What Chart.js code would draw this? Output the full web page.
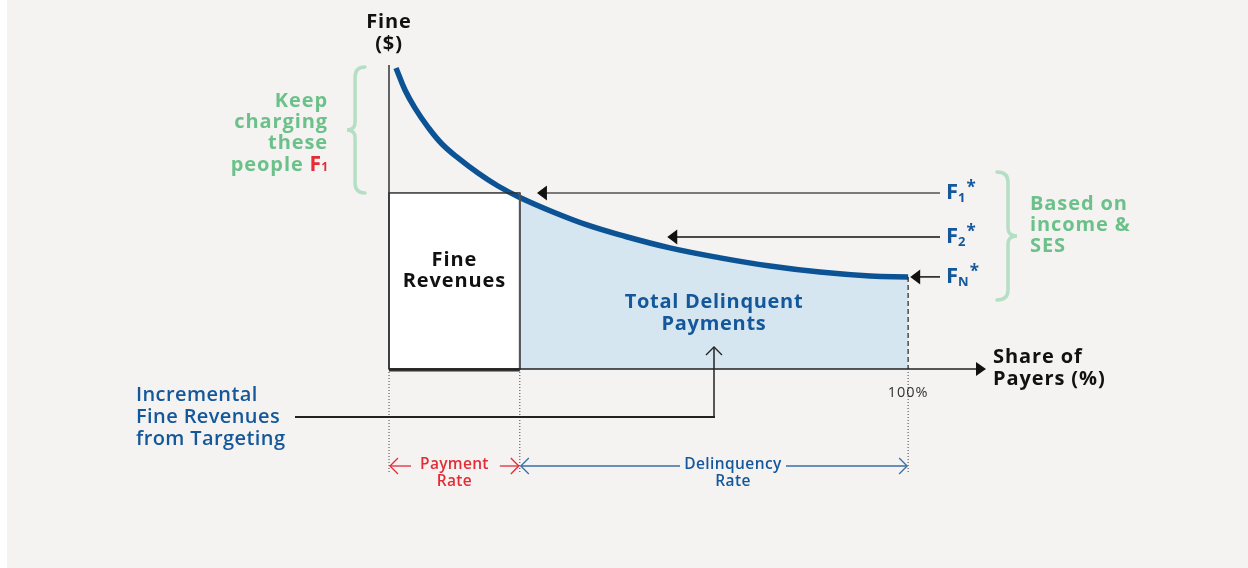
<!DOCTYPE html>
<html>
<head>
<meta charset="utf-8">
<script src="https://cdn.jsdelivr.net/npm/chart.js@4"></script>
<style>
  body { margin: 0; background: #fff; }
  #wrap { width: 1248px; height: 568px; position: relative; }
</style>
</head>
<body>
<div id="wrap"><canvas id="fines"></canvas></div>
<script>
// demand-style curve: fine ($) vs share of payers (%)
const shareX = [1.35, 3.08, 5.01, 7.51, 10.21, 13.29, 17.15, 21.0, 25.2, 31.6, 38.15, 44.5, 54.1, 63.8, 73.4, 83.0, 92.7, 100];
const fineY  = [99.7, 92.4, 86.4, 80.1, 74.5, 69.9, 64.9, 60.6, 56.8, 52.0, 47.7, 44.4, 40.1, 36.8, 34.1, 32.1, 30.8, 30.5];
const paymentRate = 25.2;
// targeted fines F1*, F2*, FN* and where their arrows hit the curve
const fineLevels = [58.3, 43.7, 30.5];
const fineSubs = ['1', '2', 'N'];
const arrowTipX = [28.5, 53.6, 100.4];

const BLUE = '#0b5394', TXTBLUE = '#14579a', GREEN = '#6cc18a', LGREEN = '#b5dfc4', RED = '#e42b36';
const FONT = '"Open Sans", sans-serif';

const curve = shareX.map((x, i) => ({x, y: fineY[i]}));
const delinquent = curve.filter(p => p.x >= paymentRate).map(p => ({...p}));
const revenueBox = [{x: 0, y: fineLevels[0]}, {x: paymentRate, y: fineLevels[0]}];

function txt(ctx, s, x, y, size, weight, color, align, spacing) {
  ctx.font = weight + ' ' + size + 'px ' + FONT;
  ctx.letterSpacing = (spacing === undefined ? 0.9 : spacing) + 'px';
  ctx.fillStyle = color;
  ctx.textAlign = align || 'center';
  ctx.textBaseline = 'middle';
  ctx.fillText(s, x, y);
  ctx.letterSpacing = '0px';
}
function measure(ctx, s, size, weight, spacing) {
  ctx.font = weight + ' ' + size + 'px ' + FONT;
  ctx.letterSpacing = (spacing === undefined ? 0.9 : spacing) + 'px';
  const w = ctx.measureText(s).width;
  ctx.letterSpacing = '0px';
  return w;
}
function line(ctx, x1, y1, x2, y2, color, w, dash) {
  ctx.beginPath();
  ctx.setLineDash(dash || []);
  ctx.strokeStyle = color; ctx.lineWidth = w;
  ctx.moveTo(x1, y1); ctx.lineTo(x2, y2); ctx.stroke();
  ctx.setLineDash([]);
}
function solidHead(ctx, x, y, dir, len, half, color) {
  // dir: 1 points right, -1 points left
  ctx.beginPath();
  ctx.fillStyle = color;
  ctx.moveTo(x, y); ctx.lineTo(x - dir * len, y - half); ctx.lineTo(x - dir * len, y + half);
  ctx.closePath(); ctx.fill();
}
function chevron(ctx, x, y, dx, dy, color) {
  ctx.beginPath();
  ctx.strokeStyle = color; ctx.lineWidth = 1.3;
  if (dy === 0) {
    ctx.moveTo(x - dx * 8, y - 8); ctx.lineTo(x, y); ctx.lineTo(x - dx * 8, y + 8);
  } else {
    ctx.moveTo(x - 8, y - dy * 8); ctx.lineTo(x, y); ctx.lineTo(x + 8, y - dy * 8);
  }
  ctx.stroke();
}
function brace(ctx, tipX, midX, y1, y2, color) {
  const ym = (y1 + y2) / 2, d = midX - tipX, bx = tipX + d * 0.55;
  ctx.beginPath();
  ctx.strokeStyle = color; ctx.lineWidth = 3.5; ctx.lineCap = 'round';
  ctx.moveTo(tipX, y1);
  ctx.quadraticCurveTo(bx, y1, bx, y1 + 10);
  ctx.lineTo(bx, ym - 8);
  ctx.quadraticCurveTo(bx, ym, midX, ym);
  ctx.quadraticCurveTo(bx, ym, bx, ym + 8);
  ctx.lineTo(bx, y2 - 10);
  ctx.quadraticCurveTo(bx, y2, tipX, y2);
  ctx.stroke();
  ctx.lineCap = 'butt';
}

const background = {
  id: 'background',
  beforeDraw(chart) {
    const ctx = chart.ctx;
    ctx.save();
    ctx.fillStyle = '#f4f3f1';
    ctx.fillRect(7, 0, chart.width - 7, chart.height);
    ctx.restore();
  }
};

const diagram = {
  id: 'diagram',
  afterDatasetsDraw(chart) {
    const ctx = chart.ctx, xs = chart.scales.x, ys = chart.scales.y;
    const x0 = xs.getPixelForValue(0), xp = xs.getPixelForValue(paymentRate), x100 = xs.getPixelForValue(100);
    const y0 = ys.getPixelForValue(0), yF1 = ys.getPixelForValue(fineLevels[0]);
    const yN = ys.getPixelForValue(fineLevels[2]);
    ctx.save();

    // fine revenues box outline
    ctx.strokeStyle = '#333'; ctx.lineWidth = 1.5;
    ctx.strokeRect(x0, yF1, xp - x0, y0 - yF1);
    line(ctx, xp, yF1, xp, y0, '#555', 2);
    line(ctx, x0, y0 + 1, xp, y0 + 1, '#333', 3);

    // axes
    line(ctx, x0, ys.getPixelForValue(100.7), x0, y0, '#333', 1.5);
    const xEnd = chart.chartArea.right;
    line(ctx, x0, y0, xEnd - 8, y0, '#222', 1.5);
    solidHead(ctx, xEnd, y0, 1, 10, 7, '#111');

    // dashed edge at 100%
    line(ctx, x100, yN, x100, y0, '#222', 1.2, [5, 3]);
    // dotted guides
    [x0, xp, x100].forEach(x => line(ctx, x, y0 + 3, x, y0 + 103, '#444', 1, [1, 2]));

    // F* arrows
    fineLevels.forEach((v, i) => {
      const y = ys.getPixelForValue(v), tip = xs.getPixelForValue(arrowTipX[i]);
      line(ctx, tip + 8, y, 940, y, i === 0 ? '#7a7a7a' : '#111', i === 0 ? 2 : 1.5);
      solidHead(ctx, tip, y, -1, 10, 7.5, '#111');
      txt(ctx, 'F', 946, y, 22, 700, TXTBLUE, 'left', 0);
      const fw = measure(ctx, 'F', 22, 700, 0);
      txt(ctx, fineSubs[i], 946 + fw, y + 5, 13, 700, TXTBLUE, 'left', 0);
      const sw = measure(ctx, fineSubs[i], 13, 700, 0);
      txt(ctx, '*', 946 + fw + sw + 1, y - 5, 17, 700, TXTBLUE, 'left', 0);
    });

    // axis titles
    txt(ctx, 'Fine', x0, 22, 20, 700, '#111');
    txt(ctx, '($)', x0, 44, 20, 700, '#111');
    txt(ctx, 'Share of', 993, 357, 20, 700, '#111', 'left');
    txt(ctx, 'Payers (%)', 993, 379, 20, 700, '#111', 'left');
    txt(ctx, '100%', x100, 393, 14.5, 400, '#333', 'center', 1);

    // area labels
    txt(ctx, 'Fine', (x0 + xp) / 2, 260, 20, 700, '#111');
    txt(ctx, 'Revenues', (x0 + xp) / 2, 281, 20, 700, '#111');
    txt(ctx, 'Total Delinquent', 714, 302, 20, 700, TXTBLUE, 'center', 0.7);
    txt(ctx, 'Payments', 714, 324, 20, 700, TXTBLUE, 'center', 0.7);

    // incremental revenues callout
    line(ctx, 714, 417, 714, 348, '#222', 1.5);
    chevron(ctx, 714, 347, 0, -1, '#222');
    line(ctx, 295, 417, 715, 417, '#222', 2);
    ['Incremental', 'Fine Revenues', 'from Targeting'].forEach((s, i) =>
      txt(ctx, s, 136, 395 + i * 22, 20, 600, TXTBLUE, 'left', 0.4));

    // left brace + note
    brace(ctx, 365, 347, ys.getPixelForValue(100), yF1, LGREEN);
    txt(ctx, 'Keep', 328, 101, 20, 700, GREEN, 'right');
    txt(ctx, 'charging', 328, 122, 20, 700, GREEN, 'right');
    txt(ctx, 'these', 328, 143, 20, 700, GREEN, 'right');
    const s1 = measure(ctx, '1', 12, 700, 0);
    txt(ctx, '1', 328, 168, 12, 700, RED, 'right', 0);
    const fW = measure(ctx, 'F', 21, 700, 0);
    txt(ctx, 'F', 328 - s1, 165, 21, 700, RED, 'right', 0);
    txt(ctx, 'people', 322 - s1 - fW, 165, 20, 700, GREEN, 'right');

    // right brace + note
    brace(ctx, 997, 1017, 172, 300, LGREEN);
    txt(ctx, 'Based on', 1030, 204, 20, 700, GREEN, 'left');
    txt(ctx, 'income &', 1030, 225, 20, 700, GREEN, 'left');
    txt(ctx, 'SES', 1030, 246, 20, 700, GREEN, 'left');

    // rate brackets
    const yr = 466;
    line(ctx, x0 + 1, yr, x0 + 22, yr, RED, 1.3);
    line(ctx, xp - 20, yr, xp - 1, yr, RED, 1.3);
    chevron(ctx, x0 + 1, yr, -1, 0, RED);
    chevron(ctx, xp - 1, yr, 1, 0, RED);
    txt(ctx, 'Payment', (x0 + xp) / 2, 465, 15.5, 600, RED, 'center', 0.3);
    txt(ctx, 'Rate', (x0 + xp) / 2, 482, 15.5, 600, RED, 'center', 0.3);
    line(ctx, xp + 1, yr, 680, yr, '#3a6ea5', 1.3);
    line(ctx, 786, yr, x100 - 1, yr, '#3a6ea5', 1.3);
    chevron(ctx, xp + 1, yr, -1, 0, '#3a6ea5');
    chevron(ctx, x100 - 1, yr, 1, 0, '#3a6ea5');
    txt(ctx, 'Delinquency', 733, 465, 15.5, 600, TXTBLUE, 'center', 0.4);
    txt(ctx, 'Rate', 733, 482, 15.5, 600, TXTBLUE, 'center', 0.4);

    ctx.restore();
  }
};

new Chart(document.getElementById('fines'), {
  type: 'line',
  data: {
    datasets: [
      { data: curve, borderColor: BLUE, borderWidth: 5.5, pointRadius: 0,
        tension: 0.4, fill: false, clip: false },
      { data: delinquent, borderWidth: 0, pointRadius: 0, borderColor: 'transparent',
        tension: 0.4, fill: 'origin', backgroundColor: '#d5e6f1' },
      { data: revenueBox, borderWidth: 0, pointRadius: 0, borderColor: 'transparent',
        fill: 'origin', backgroundColor: '#ffffff' }
    ]
  },
  options: {
    responsive: true,
    maintainAspectRatio: false,
    animation: false,
    layout: { padding: { left: 389, right: 262, top: 64, bottom: 199 } },
    scales: {
      x: { type: 'linear', min: 0, max: 115, display: false },
      y: { min: 0, max: 101, display: false }
    },
    plugins: { legend: { display: false }, tooltip: { enabled: false } }
  },
  plugins: [background, diagram]
});
</script>
</body>
</html>
